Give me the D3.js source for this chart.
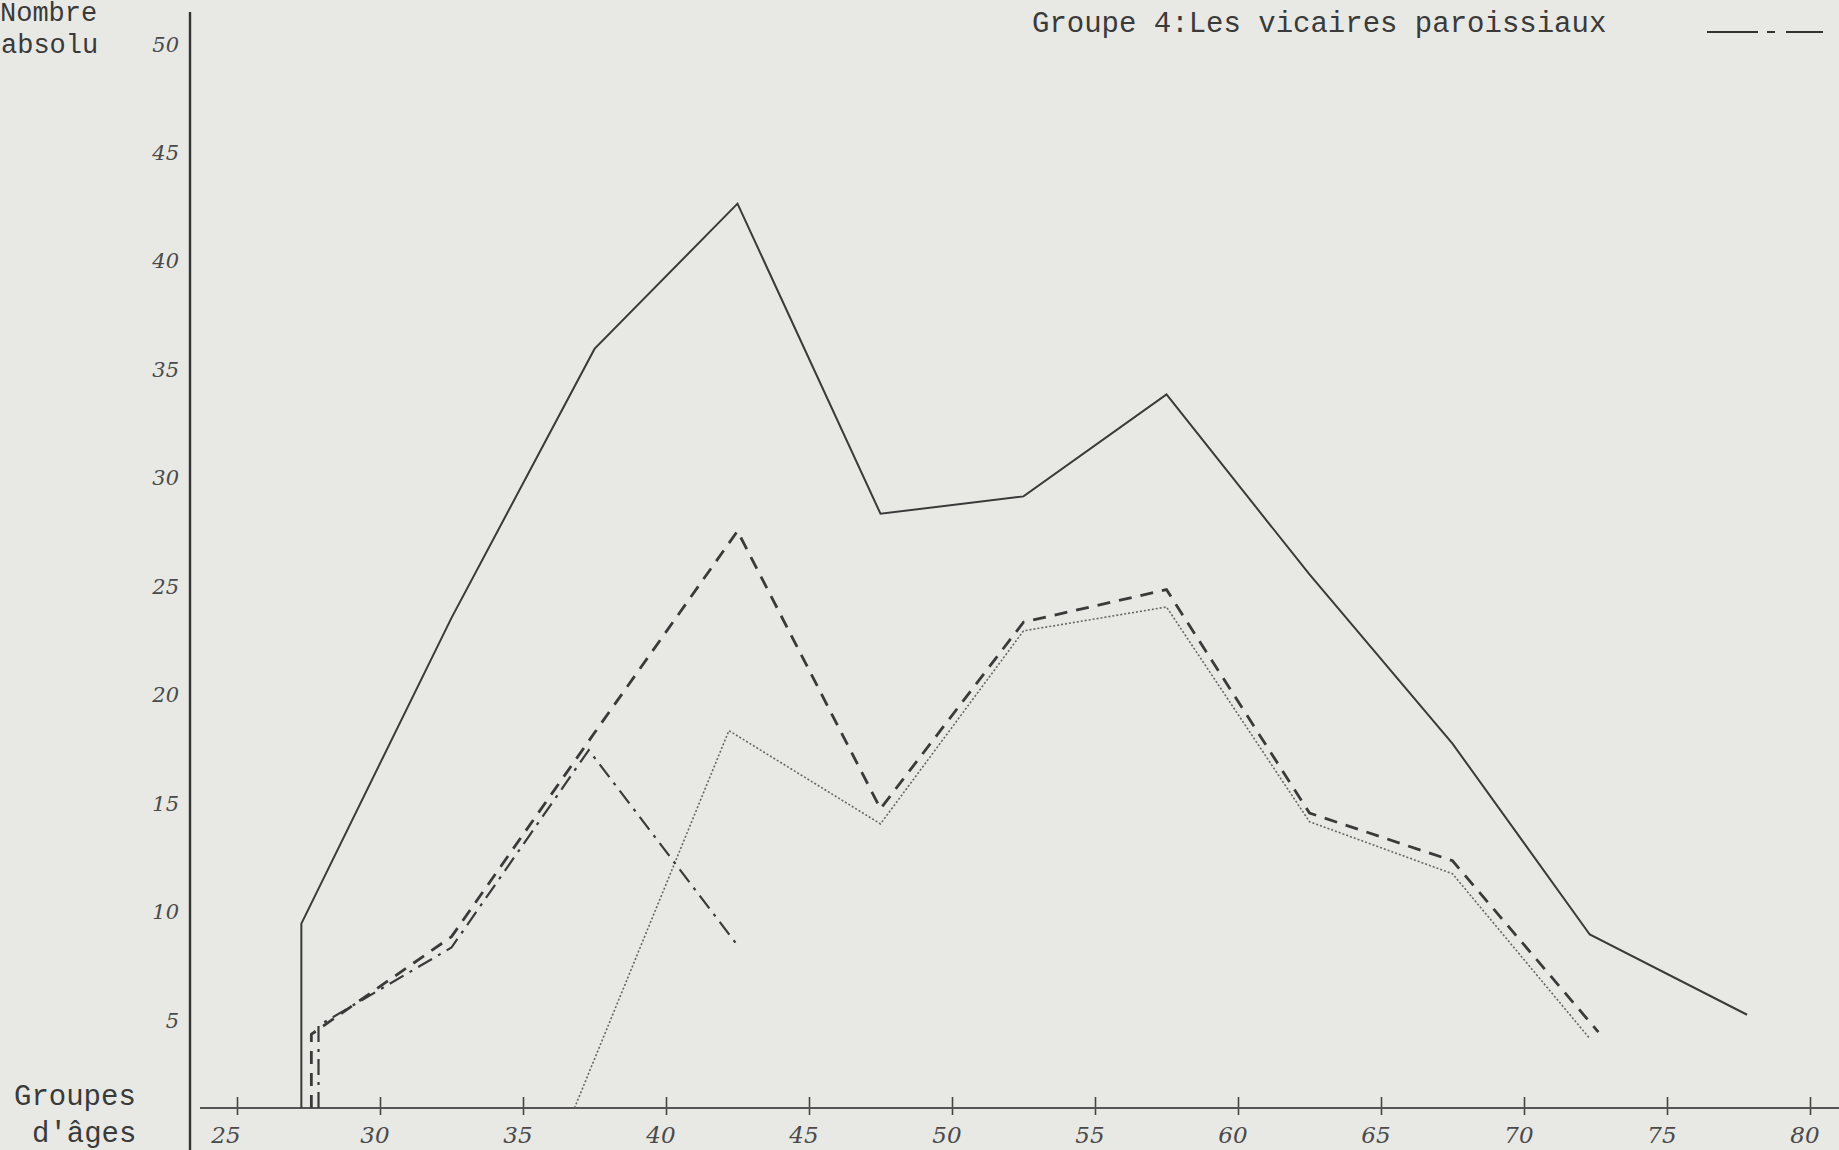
<!DOCTYPE html>
<meta charset="utf-8">
<style>
    body { margin: 0; background: #e8e9e4; overflow: hidden; }
    .type { font-family: "Liberation Mono", "DejaVu Sans Mono", monospace; fill: #3a3a3a; }
    .hand { font-family: "DejaVu Serif", serif; font-style: italic; fill: #4a4a4a; }
</style>
<body>
<script src="https://d3js.org/d3.v7.min.js"></script>
<script>
    // tick labels
    var ageTicks = [25, 30, 35, 40, 45, 50, 55, 60, 65, 70, 75, 80];
    var countTicks = [5, 10, 15, 20, 25, 30, 35, 40, 45, 50];

    // series: [age group, count]
    var ensemble = [[27.25, 0], [27.25, 8.5], [32.5, 22.6], [37.5, 35], [42.5, 41.7], [47.5, 27.4],
        [52.5, 28.2], [57.5, 32.9], [62.5, 24.6], [67.5, 16.8], [72.3, 8], [77.8, 4.3]];
    var dashed = [[27.6, 0], [27.6, 3.4], [32.5, 7.9], [37.5, 17.3], [42.5, 26.6], [47.5, 13.8],
        [52.5, 22.4], [57.5, 23.9], [62.5, 13.6], [67.5, 11.4], [72.6, 3.5]];
    var dotted = [[36.8, 0], [42.2, 17.4], [47.5, 13.1], [52.5, 22], [57.5, 23.1],
        [62.5, 13.2], [67.5, 10.8], [72.3, 3.2]];
    var vicaires = [[27.85, 0], [27.85, 3.8], [32.5, 7.4], [37.3, 16.5], [42.5, 7.5]];

    var width = 1839, height = 1150;

    var svg = d3.select("body").append("svg")
        .attr("width", width)
        .attr("height", height);

    // scales
    var x = d3.scaleLinear().domain([25, 80]).range([237, 1810]);
    var y = d3.scaleLinear().domain([0, 50]).range([1108, 23.6]);

    var line = d3.line()
        .x(function (d) { return x(d[0]); })
        .y(function (d) { return y(d[1]); });

    // y axis (plain vertical rule, labels written beside it)
    svg.append("line")
        .attr("x1", 190).attr("x2", 190)
        .attr("y1", 12).attr("y2", height)
        .attr("stroke", "#333").attr("stroke-width", 2.4);

    svg.selectAll(".ylab")
        .data(countTicks)
        .enter().append("text")
        .attr("class", "hand ylab")
        .attr("x", 179)
        .attr("y", function (d) { return y(d) + 28; })
        .attr("text-anchor", "end")
        .attr("font-size", 21)
        .text(function (d) { return d; });

    // x axis
    var xAxis = svg.append("g")
        .attr("transform", "translate(0,1108)")
        .call(d3.axisBottom(x).tickValues(ageTicks).tickSize(0).tickFormat(""));
    xAxis.select(".domain").remove();
    xAxis.append("line")
        .attr("x1", 200).attr("x2", width)
        .attr("stroke", "#555").attr("stroke-width", 2);
    xAxis.selectAll(".tick").append("line")
        .attr("y1", -11).attr("y2", 7)
        .attr("stroke", "#444").attr("stroke-width", 1.6);

    svg.selectAll(".xlab")
        .data(ageTicks)
        .enter().append("text")
        .attr("class", "hand xlab")
        .attr("x", function (d) { return x(d) - (d == 25 ? 11 : 5); })
        .attr("y", 1143)
        .attr("text-anchor", "middle")
        .attr("font-size", 23)
        .text(function (d) { return d; });

    // lines
    svg.append("path")
        .datum(ensemble)
        .attr("d", line)
        .attr("fill", "none")
        .attr("stroke", "#3a3a3a")
        .attr("stroke-width", 2);

    svg.append("path")
        .datum(dashed)
        .attr("d", line)
        .attr("fill", "none")
        .attr("stroke", "#3a3a3a")
        .attr("stroke-width", 2.8)
        .attr("stroke-dasharray", "13,9");

    svg.append("path")
        .datum(dotted)
        .attr("d", line)
        .attr("fill", "none")
        .attr("stroke", "#666")
        .attr("stroke-width", 1.6)
        .attr("stroke-dasharray", "2,2");

    svg.append("path")
        .datum(vicaires)
        .attr("d", line)
        .attr("fill", "none")
        .attr("stroke", "#3a3a3a")
        .attr("stroke-width", 2.2)
        .attr("stroke-dasharray", "16,7,3,7");

    // side labels
    svg.append("text").attr("class", "type").attr("x", 0).attr("y", 21)
        .attr("font-size", 27).text("Nombre");
    svg.append("text").attr("class", "type").attr("x", 1).attr("y", 53)
        .attr("font-size", 27).text("absolu");
    svg.append("text").attr("class", "type").attr("x", 14).attr("y", 1105)
        .attr("font-size", 29).text("Groupes");
    svg.append("text").attr("class", "type").attr("x", 32).attr("y", 1142)
        .attr("font-size", 29).text("d'âges");

    // legend
    svg.append("text").attr("class", "type").attr("x", 1032).attr("y", 32)
        .attr("font-size", 29).text("Groupe 4:Les vicaires paroissiaux");
    svg.append("line")
        .attr("x1", 1707).attr("x2", 1823)
        .attr("y1", 32).attr("y2", 32)
        .attr("stroke", "#333").attr("stroke-width", 2.2)
        .attr("stroke-dasharray", "51,9,8,11,40");
</script>
</body>
